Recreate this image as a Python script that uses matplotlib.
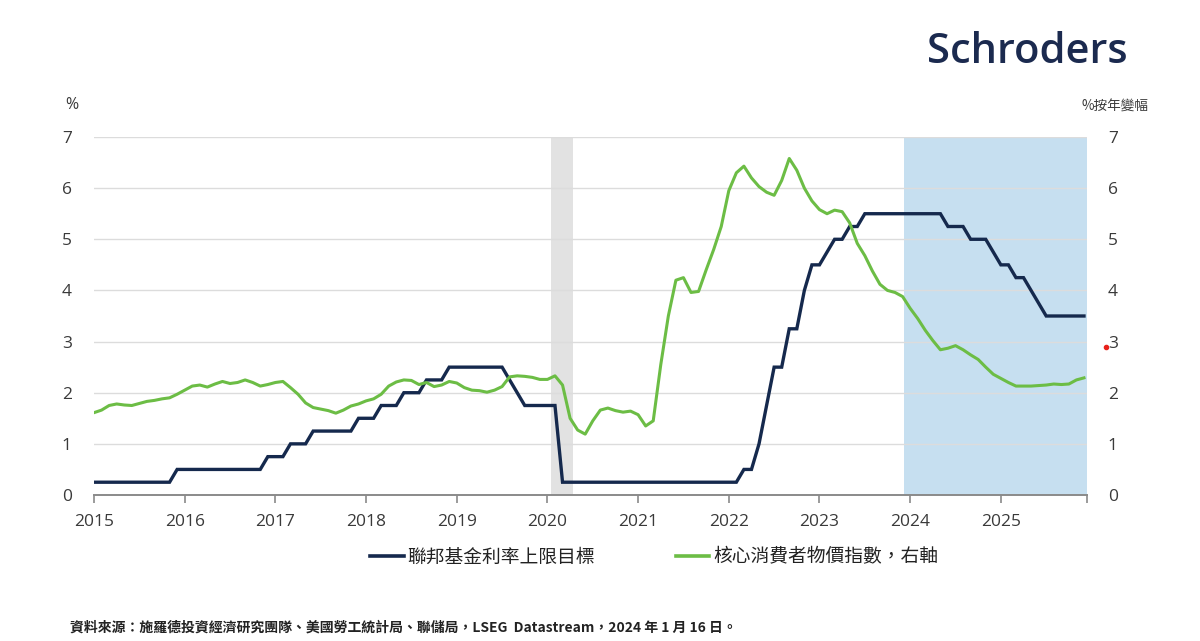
import numpy as np
import matplotlib
matplotlib.use("Agg")
import matplotlib.pyplot as plt
from matplotlib.lines import Line2D

plt.rcParams['font.family'] = ['Open Sans', 'Noto Sans CJK TC', 'DejaVu Sans']

# ---- data (monthly, Jan 2015 .. Dec 2025) ----
start_year = 2015
fed_upper = (
    [0.25] * 11 + [0.5] +                                  # 2015
    [0.5] * 11 + [0.75] +                                  # 2016
    [0.75] * 2 + [1.0] * 3 + [1.25] * 6 + [1.5] +          # 2017
    [1.5] * 2 + [1.75] * 3 + [2.0] * 3 + [2.25] * 3 + [2.5] +  # 2018
    [2.5] * 7 + [2.25, 2.0] + [1.75] * 3 +                 # 2019
    [1.75] * 2 + [0.25] * 10 +                             # 2020
    [0.25] * 12 +                                          # 2021
    [0.25] * 2 + [0.5] * 2 + [1.0, 1.75, 2.5, 2.5, 3.25, 3.25, 4.0, 4.5] +  # 2022
    [4.5, 4.75, 5.0, 5.0, 5.25, 5.25] + [5.5] * 6 +        # 2023
    [5.5] * 5 + [5.25] * 3 + [5.0] * 3 + [4.75] +          # 2024
    [4.5] * 2 + [4.25] * 2 + [4.0, 3.75] + [3.5] * 6       # 2025
)
core_cpi = [
    1.61, 1.66, 1.75, 1.78, 1.76, 1.75, 1.79, 1.83, 1.85, 1.88, 1.90, 1.97,   # 2015
    2.05, 2.13, 2.15, 2.11, 2.17, 2.22, 2.18, 2.20, 2.25, 2.20, 2.13, 2.16,   # 2016
    2.20, 2.22, 2.10, 1.97, 1.80, 1.71, 1.68, 1.65, 1.60, 1.66, 1.74, 1.78,   # 2017
    1.84, 1.88, 1.97, 2.13, 2.21, 2.25, 2.24, 2.16, 2.20, 2.12, 2.15, 2.22,   # 2018
    2.19, 2.10, 2.05, 2.04, 2.01, 2.05, 2.12, 2.31, 2.33, 2.32, 2.30, 2.26,   # 2019
    2.26, 2.33, 2.15, 1.50, 1.27, 1.19, 1.45, 1.66, 1.70, 1.65, 1.62, 1.64,   # 2020
    1.57, 1.35, 1.45, 2.55, 3.50, 4.20, 4.25, 3.96, 3.98, 4.40, 4.80, 5.25,   # 2021
    5.95, 6.30, 6.43, 6.20, 6.03, 5.92, 5.86, 6.15, 6.58, 6.35, 6.00, 5.75,   # 2022
    5.58, 5.50, 5.57, 5.54, 5.32, 4.92, 4.68, 4.38, 4.12, 4.00, 3.96, 3.88,   # 2023
    3.65, 3.45, 3.22, 3.02, 2.84, 2.87, 2.92, 2.84, 2.74, 2.65, 2.50, 2.36,   # 2024
    2.28, 2.20, 2.13, 2.13, 2.13, 2.14, 2.15, 2.17, 2.16, 2.17, 2.25, 2.29,   # 2025
]
year_ticks = list(range(2015, 2026))
recession = (2020.04, 2020.28)
forecast = (2023.93, 2025.95)
series_labels = ['聯邦基金利率上限目標', '核心消費者物價指數，右軸']

months = start_year + np.arange(len(fed_upper)) / 12.0

NAVY = '#15294d'
GREEN = '#6cbd45'
TXT = '#3a3a3a'

fig = plt.figure(figsize=(12, 6.41), dpi=100)
L, R, B, T = 94 / 1200, 1087 / 1200, 1 - 495 / 641, 1 - 137 / 641
ax = fig.add_axes([L, B, R - L, T - B])
xmax = forecast[1]
ax.set_xlim(2015, xmax)
ax.set_ylim(0, 7)

ax.axvspan(*recession, color='#e2e2e2', lw=0, zorder=0.5)
ax.axvspan(*forecast, color='#c6dff0', lw=0, zorder=0.5)
for v in range(1, 8):
    ax.axhline(v, color='#dcdcdc', lw=1.0, zorder=1)

ax.plot(months, fed_upper, color=NAVY, lw=2.4, zorder=3, solid_joinstyle='miter')
ax.plot(months, core_cpi, color=GREEN, lw=2.2, zorder=4)

for s in ['top', 'right', 'left']:
    ax.spines[s].set_visible(False)
ax.spines['bottom'].set_color('#8a8a8a')
ax.spines['bottom'].set_linewidth(1.4)
ax.set_xticks(year_ticks + [xmax])
ax.set_xticklabels([str(y) for y in year_ticks] + [''])
ax.tick_params(axis='x', length=6, width=1.2, color='#8a8a8a', labelsize=12.5,
               labelcolor=TXT, pad=8)
ax.set_yticks(range(0, 8))
ax.tick_params(axis='y', length=0, labelsize=12.5, labelcolor=TXT, pad=16)

ax2 = ax.twinx()
ax2.set_ylim(0, 7)
ax2.set_yticks(range(0, 8))
for s in ax2.spines.values():
    s.set_visible(False)
ax2.tick_params(axis='y', length=0, labelsize=12.5, labelcolor=TXT, pad=15)

fig.text(72 / 1200, 1 - 105 / 641, '%', fontsize=11.5, color=TXT, ha='center', va='center')
fig.text(1148 / 1200, 1 - 107 / 641, '%按年變幅', fontsize=9.8, color=TXT, ha='right', va='center',
         family=['Noto Sans CJK TC', 'DejaVu Sans'])

fig.text(1128 / 1200, 1 - 52 / 641, 'Schroders', fontsize=30, color='#1b2a4f', ha='right',
         va='center', weight='semibold', family=['Open Sans', 'DejaVu Sans'])

# legend
handles = [Line2D([], [], color=NAVY, lw=2.6), Line2D([], [], color=GREEN, lw=2.6)]
fig.legend(handles, series_labels, loc='center', bbox_to_anchor=(654 / 1200, 1 - 557 / 641),
           ncol=2, frameon=False, handlelength=1.8, handletextpad=0.2, columnspacing=4.3,
           prop={'family': ['Noto Sans CJK TC', 'DejaVu Sans'], 'size': 13.5, 'weight': 'medium'},
           labelcolor='#222222')

fig.text(70 / 1200, 1 - 628 / 641,
         '資料來源：施羅德投資經濟研究團隊、美國勞工統計局、聯儲局，LSEG  Datastream，2024 年 1 月 16 日。',
         fontsize=10, color='#222222', ha='left', va='center', weight='bold',
         family=['Noto Sans CJK TC', 'DejaVu Sans'])

fig.add_artist(Line2D([1106 / 1200], [1 - 347 / 641], marker='o', ms=3, color='#e8211a', lw=0))

fig.savefig('out.png', dpi=100, facecolor='white')
